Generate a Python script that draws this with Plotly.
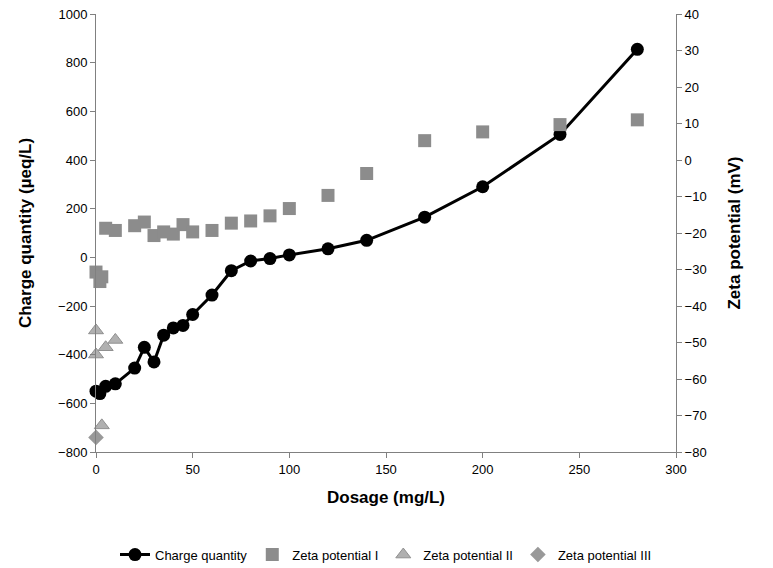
import plotly.graph_objects as go

cq_x = [0, 2, 5, 10, 20, 25, 30, 35, 40, 45, 50, 60, 70, 80, 90, 100, 120, 140, 170, 200, 240, 280]
cq_y = [-550, -560, -530, -520, -455, -370, -430, -320, -290, -280, -235, -155, -55, -15, -5, 10, 35, 70, 165, 290, 505, 855]
z1_x = [0, 2, 3, 5, 10, 20, 25, 30, 35, 40, 45, 50, 60, 70, 80, 90, 100, 120, 140, 170, 200, 240, 280]
z1_y = [-30.7, -33.3, -32, -18.7, -19.3, -18, -17, -20.7, -19.7, -20.3, -17.7, -19.7, -19.3, -17.3, -16.7, -15.3, -13.3, -9.7, -3.7, 5.3, 7.7, 9.7, 11]
z2_x = [0, 0, 3, 5, 10]
z2_y = [-46.7, -53.3, -72.7, -51.3, -49.3]
z3_x = [0]
z3_y = [-76]

fig = go.Figure()
fig.add_trace(go.Scatter(x=cq_x, y=cq_y, mode="lines+markers", name="Charge quantity", cliponaxis=False,
                         line=dict(color="black", width=3), marker=dict(size=13, color="black")))
fig.add_trace(go.Scatter(x=z1_x, y=z1_y, mode="markers", name="Zeta potential I", yaxis="y2", cliponaxis=False,
                         marker=dict(symbol="square", size=13, color="#8c8c8c")))
fig.add_trace(go.Scatter(x=z2_x, y=z2_y, mode="markers", name="Zeta potential II", yaxis="y2", cliponaxis=False,
                         marker=dict(symbol="triangle-up", size=13, color="#b0b0b0", line=dict(color="#909090", width=1))))
fig.add_trace(go.Scatter(x=z3_x, y=z3_y, mode="markers", name="Zeta potential III", yaxis="y2", cliponaxis=False,
                         marker=dict(symbol="diamond", size=12, color="#999999")))

ax = dict(showgrid=False, zeroline=False, showline=True, linecolor="#808080", ticks="outside",
          tickcolor="#808080", tickfont=dict(size=13, color="black"), automargin=False,
          ticklabeloverflow="allow")
fig.update_layout(
    width=773, height=568, plot_bgcolor="white", paper_bgcolor="white",
    font=dict(family="Liberation Sans, Arial", color="black"),
    margin=dict(l=88, r=105, t=6, b=102),
    xaxis=dict(**ax, range=[0, 300], dtick=50, title=dict(text="<b>Dosage (mg/L)</b>", font=dict(size=17))),
    yaxis=dict(**ax, range=[-800, 1000], dtick=200, title=dict(text="<b>Charge quantity (µeq/L)</b>", font=dict(size=17), standoff=22)),
    yaxis2=dict(**ax, range=[-80, 40], dtick=10, overlaying="y", side="right",
                title=dict(text="<b>Zeta potential (mV)</b>", font=dict(size=17), standoff=22)),
    legend=dict(orientation="h", x=0.5, xanchor="center", y=-0.2, yanchor="top", font=dict(size=13)),
    showlegend=True,
)
fig.write_html("out.html")
